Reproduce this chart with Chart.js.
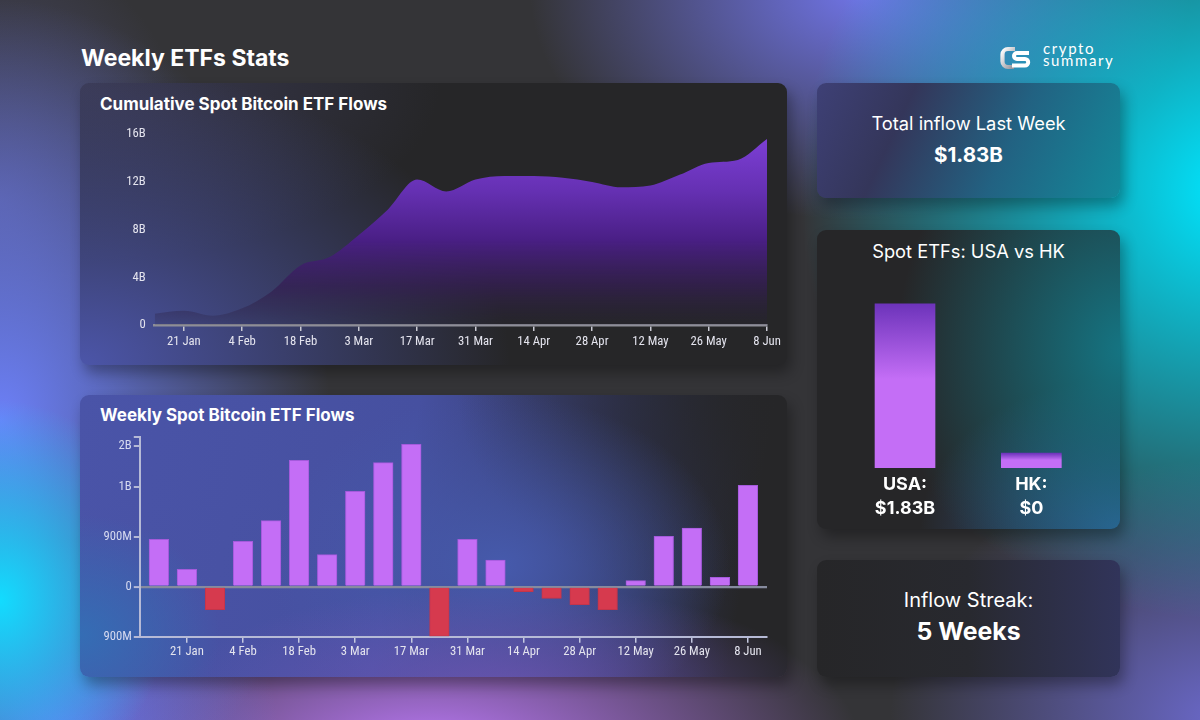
<!DOCTYPE html>
<html>
<head>
<meta charset="utf-8">
<script src="https://cdn.jsdelivr.net/npm/chart.js@4.4.1/dist/chart.umd.min.js"></script>
<style>
  html, body { margin: 0; padding: 0; }
  body {
    width: 1200px; height: 720px; overflow: hidden; position: relative;
    font-family: 'Inter', 'Lato', sans-serif; color: #fff;
    background:
      radial-gradient(ellipse 170px 200px at 0px 600px, #12dcff 0%, rgba(18,220,255,0) 100%),
      radial-gradient(ellipse 330px 420px at 0px 420px, #6c80f8 0%, rgba(108,128,248,0) 100%),
      radial-gradient(ellipse 220px 200px at 60px 740px, #6a72ee 0%, rgba(106,114,238,0) 100%),
      radial-gradient(ellipse 430px 170px at 430px 745px, #b877f2 0%, rgba(184,119,242,0) 100%),
      radial-gradient(ellipse 430px 430px at 1230px 190px, #00e6ff 0%, rgba(0,230,255,0) 100%),
      radial-gradient(ellipse 330px 260px at 1220px 720px, #6a68c8 0%, rgba(106,104,200,0) 100%),
      radial-gradient(ellipse 330px 230px at 860px -10px, #7074e6 0%, rgba(112,116,230,0) 100%),
      radial-gradient(ellipse 200px 260px at 0px 200px, rgba(90,90,150,0.7) 0%, rgba(90,90,150,0) 100%),
      #343437;
  }
  .card {
    position: absolute; border-radius: 9px; overflow: hidden;
    box-shadow: 4px 8px 14px rgba(0,0,0,0.32);
  }
  .card canvas { position: absolute; left: 0; top: 0; }
  .title { position: absolute; font-weight: 700; white-space: nowrap; line-height: 1; }
  .center { position: absolute; left: 0; width: 100%; text-align: center; line-height: 1; white-space: nowrap; }
  #card1 {
    left: 80px; top: 83px; width: 707px; height: 282px;
    background:
      radial-gradient(ellipse 430px 300px at 0px 282px, rgba(78,88,176,0.95) 0%, rgba(78,88,176,0) 100%),
      radial-gradient(ellipse 360px 180px at 0px 0px, rgba(62,62,92,0.85) 0%, rgba(62,62,92,0) 100%),
      #262628;
  }
  #card2 {
    left: 80px; top: 395px; width: 707px; height: 282px;
    background:
      radial-gradient(ellipse 320px 110px at 420px 300px, rgba(112,86,182,0.85) 0%, rgba(112,86,182,0) 100%),
      radial-gradient(ellipse 140px 120px at 0px 240px, rgba(50,112,182,0.9) 0%, rgba(50,112,182,0) 100%),
      radial-gradient(ellipse 230px 170px at 420px 170px, rgba(70,90,172,1) 0%, rgba(70,90,172,0) 100%),
      radial-gradient(ellipse 330px 220px at 707px 0px, rgba(38,38,40,1) 0%, rgba(38,38,40,0) 100%),
      linear-gradient(100deg, #4a54a8 0%, #4650a0 45%, #2e3252 78%, #262628 92%);
  }
  #cardA {
    left: 817px; top: 83px; width: 303px; height: 115px;
    background: linear-gradient(115deg, #3e4076 0%, #34365a 28%, #226282 62%, #13899a 100%);
  }
  #cardB {
    left: 817px; top: 229.6px; width: 303px; height: 299px;
    background:
      radial-gradient(ellipse 230px 270px at 310px 120px, rgba(20,118,132,1) 0%, rgba(20,118,132,0) 100%),
      radial-gradient(ellipse 200px 150px at 303px 299px, rgba(50,92,150,1) 0%, rgba(50,92,150,0) 100%),
      #262628;
  }
  #cardC {
    left: 817px; top: 560px; width: 303px; height: 117px;
    background: linear-gradient(90deg, #262628 0%, #28292f 50%, #31345a 100%);
  }
  #logo { position: absolute; left: 1000px; top: 46px; }
  #logoText {
    position: absolute; left: 1043px; top: 43px; font-size: 15px; line-height: 11.5px;
    font-family: 'Lato', sans-serif; font-weight: 400; letter-spacing: 1.6px;
  }
</style>
</head>
<body>
<div class="title" style="left:81px; top:46.8px; font-size:23px;">Weekly ETFs Stats</div>

<svg id="logo" width="32" height="25" viewBox="0 0 32 25">
  <defs>
    <linearGradient id="cg" x1="0" y1="0" x2="1" y2="1">
      <stop offset="0" stop-color="#ffffff"/>
      <stop offset="1" stop-color="#8d8d96"/>
    </linearGradient>
  </defs>
  <path d="M15 3 H8 a5.5 5.5 0 0 0 -5.5 5.5 v7 a5.5 5.5 0 0 0 5.5 5.5 h6" fill="none" stroke="url(#cg)" stroke-width="4.2"/>
  <path d="M29 7 H17 a3 3 0 0 0 0 6 h8 a3.2 3.2 0 0 1 0 6.4 H12" fill="none" stroke="#ffffff" stroke-width="4"/>
</svg>
<div id="logoText">crypto<br>summary</div>

<div class="card" id="card1">
  <div class="title" style="left:20px; top:13px; font-size:17px;">Cumulative Spot Bitcoin ETF Flows</div>
  <canvas id="cumChart" width="707" height="282"></canvas>
</div>

<div class="card" id="card2">
  <div class="title" style="left:20px; top:12px; font-size:17px;">Weekly Spot Bitcoin ETF Flows</div>
  <canvas id="weeklyChart" width="707" height="282"></canvas>
</div>

<div class="card" id="cardA">
  <div class="center" style="top:31.2px; font-size:18.3px;">Total inflow Last Week</div>
  <div class="center" style="top:61.9px; font-size:20.6px; font-weight:700;">$1.83B</div>
</div>

<div class="card" id="cardB">
  <div class="center" style="top:12.2px; font-size:18.3px;">Spot ETFs: USA vs HK</div>
  <canvas id="regionChart" width="303" height="299"></canvas>
</div>

<div class="card" id="cardC">
  <div class="center" style="top:30px; font-size:20px;">Inflow Streak:</div>
  <div class="center" style="top:59.3px; font-size:24.8px; font-weight:700;">5 Weeks</div>
</div>

<script>
// Week labels (Jan 14 .. Jun 8)
const weekLabels = ['14 Jan', '21 Jan', '28 Jan', '4 Feb', '11 Feb', '18 Feb', '25 Feb', '3 Mar',
    '10 Mar', '17 Mar', '24 Mar', '31 Mar', '7 Apr', '14 Apr', '21 Apr', '28 Apr', '5 May',
    '12 May', '19 May', '26 May', '2 Jun', '8 Jun'];

// Cumulative flows, billions
const cumulativeFlows = [0.95, 1.2, 0.78, 1.4, 2.8, 5.0, 5.7, 7.55, 9.7, 12.2, 11.2, 12.2,
    12.5, 12.5, 12.35, 12.0, 11.55, 11.7, 12.6, 13.6, 13.85, 15.6];

// Weekly flows, millions
const weeklyFlows = [852, 312, -414, 816, 1188, 2274, 576, 1716, 2232, 2562, -890, 852,
    480, -90, -210, -324, -414, 108, 906, 1056, 168, 1824];

// Axis ticks
const cumTickValues = [0, 4, 8, 12, 16];
const cumTickLabels = ['0', '4B', '8B', '12B', '16B'];
const weeklyTickValues = [-900, 0, 900, 1800, 2540, 2700];
const weeklyTickLabels = ['900M', '0', '900M', '1B', '2B', ''];

// USA vs HK
const regionLabels = [['USA:', '$1.83B'], ['HK:', '$0']];
const regionFlows = [1.83, 0];

const tickFont = { family: "'Roboto Condensed', 'DejaVu Sans Condensed', 'Liberation Sans Narrow', 'Roboto', sans-serif", size: 12.7 };
const tickColor = '#e4e4ee';

// Only every other week gets a label
function weekTick(index) {
    return index % 2 === 1 ? weekLabels[index] : null;
}

// Cumulative area chart
const cumCtx = document.getElementById('cumChart').getContext('2d');
new Chart(cumCtx, {
    type: 'line',
    data: {
        labels: weekLabels,
        datasets: [{
            data: cumulativeFlows,
            fill: 'origin',
            borderWidth: 0,
            pointRadius: 0,
            cubicInterpolationMode: 'monotone',
            backgroundColor: function(context) {
                const chart = context.chart;
                const area = chart.chartArea;
                if (!area) return 'rgba(110, 50, 190, 0.8)';
                const g = chart.ctx.createLinearGradient(0, area.top, 0, area.bottom);
                g.addColorStop(0, '#7e40d8');
                g.addColorStop(0.3, '#6530b2');
                g.addColorStop(0.55, '#4a1f86');
                g.addColorStop(0.8, 'rgba(52, 30, 82, 0.75)');
                g.addColorStop(1, 'rgba(40, 34, 58, 0.15)');
                return g;
            }
        }]
    },
    options: {
        responsive: false,
        animation: false,
        layout: { padding: { top: 51.3, right: 20, bottom: 10, left: 0 } },
        plugins: { legend: { display: false }, tooltip: { enabled: false } },
        scales: {
            x: {
                offset: false,
                afterFit: function(scale) { scale.height = 30; },
                border: { display: true, color: '#8e8e98', width: 2.5 },
                grid: { display: true, offset: false, drawOnChartArea: false, drawTicks: true, tickLength: 6, color: '#c8c8d2', lineWidth: 1.5 },
                ticks: {
                    autoSkip: false, maxRotation: 0, padding: 3,
                    color: tickColor, font: tickFont,
                    callback: function(value, index) { return weekTick(index); }
                }
            },
            y: {
                min: 0, max: 16,
                afterFit: function(scale) { scale.width = 74.7; },
                afterBuildTicks: function(scale) {
                    scale.ticks = cumTickValues.map(v => ({ value: v }));
                },
                border: { display: false },
                grid: { display: false, drawTicks: false },
                ticks: {
                    padding: 9, color: tickColor, font: tickFont,
                    callback: function(value, index) { return cumTickLabels[index]; }
                }
            }
        }
    }
});

// Weekly bar chart
const weeklyCtx = document.getElementById('weeklyChart').getContext('2d');
const labelIdx = weekLabels.map((l, i) => i).filter(i => i % 2 === 1);
new Chart(weeklyCtx, {
    type: 'bar',
    data: {
        datasets: [{
            data: weeklyFlows.map((v, i) => ({ x: i, y: v })),
            backgroundColor: weeklyFlows.map(v => v >= 0 ? '#c46ef6' : '#d63a4e'),
            borderColor: weeklyFlows.map(v => v >= 0 ? '#a45adc' : '#c4354a'),
            borderWidth: 1,
            barThickness: 19.6
        }]
    },
    options: {
        responsive: false,
        animation: false,
        layout: { padding: { top: 41.7, right: 20, bottom: 10.3, left: 0 } },
        plugins: { legend: { display: false }, tooltip: { enabled: false } },
        scales: {
            x: {
                type: 'linear',
                min: -0.68, max: 21.68,
                offset: false,
                afterFit: function(scale) { scale.height = 30; },
                afterBuildTicks: function(scale) {
                    scale.ticks = labelIdx.map(v => ({ value: v }));
                },
                border: { display: true, color: '#b6bad6', width: 2 },
                grid: { display: true, offset: false, drawOnChartArea: false, drawTicks: true, tickLength: 6, color: '#c4c8e0', lineWidth: 1.5 },
                ticks: {
                    autoSkip: false, maxRotation: 0, padding: 2,
                    color: tickColor, font: tickFont,
                    callback: function(value) { return weekLabels[value]; }
                }
            },
            y: {
                min: -900, max: 2700,
                afterFit: function(scale) { scale.width = 59.8; },
                afterBuildTicks: function(scale) {
                    scale.ticks = weeklyTickValues.map(v => ({ value: v }));
                },
                border: { display: true, color: '#b6bad6', width: 2 },
                grid: {
                    drawOnChartArea: true, drawTicks: true, tickLength: 6,
                    color: ctx => (ctx.tick && ctx.tick.value === 0) ? '#868b9e' : 'rgba(0,0,0,0)',
                    lineWidth: ctx => (ctx.tick && ctx.tick.value === 0) ? 2.2 : 0,
                    tickColor: '#b6bad6',
                    tickWidth: 2
                },
                ticks: {
                    padding: 2, color: '#d6daf0', font: tickFont,
                    callback: function(value, index) { return weeklyTickLabels[index]; }
                }
            }
        }
    }
});

// USA vs HK bars
const regionCtx = document.getElementById('regionChart').getContext('2d');
new Chart(regionCtx, {
    type: 'bar',
    data: {
        labels: regionLabels,
        datasets: [{
            data: regionFlows,
            barThickness: 60,
            minBarLength: 15,
            borderWidth: 0,
            backgroundColor: function(context) {
                const chart = context.chart;
                if (!chart.chartArea) return '#c46ef6';
                const yScale = chart.scales.y;
                const base = yScale.getPixelForValue(0);
                let top = yScale.getPixelForValue(regionFlows[context.dataIndex]);
                if (base - top < 15) top = base - 15;
                const g = chart.ctx.createLinearGradient(0, top, 0, base);
                g.addColorStop(0, '#6c33ba');
                g.addColorStop(0.46, '#c46ef6');
                g.addColorStop(1, '#c46ef6');
                return g;
            }
        }]
    },
    options: {
        responsive: false,
        animation: false,
        layout: { padding: { top: 73.4, right: 25.5, bottom: 0.9, left: 24.85 } },
        plugins: { legend: { display: false }, tooltip: { enabled: false } },
        scales: {
            x: {
                afterFit: function(scale) { scale.height = 60; },
                border: { display: false },
                grid: { display: false, drawTicks: false },
                ticks: {
                    padding: 4, color: '#ffffff',
                    font: { family: "'Inter', sans-serif", size: 18, weight: 'bold', lineHeight: 1.34 }
                }
            },
            y: { display: false, min: 0, max: 1.83 }
        }
    }
});
</script>
</body>
</html>
